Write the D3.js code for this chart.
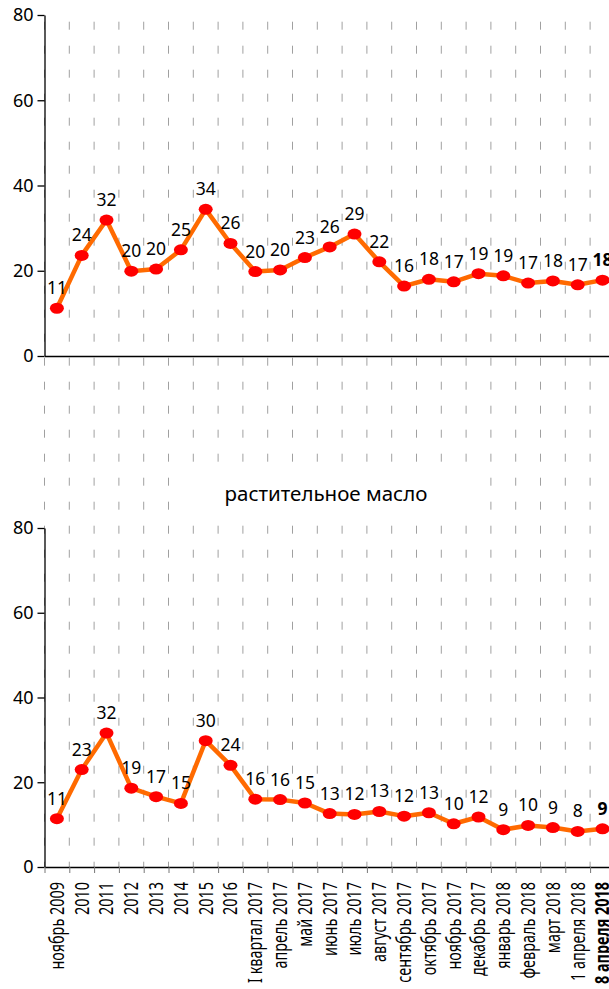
<!DOCTYPE html>
<html>
<head>
<meta charset="utf-8">
<script src="https://cdn.jsdelivr.net/npm/d3@7.9.0/dist/d3.min.js"></script>
<style>
  body { margin: 0; background: #fff; }
  svg { display: block; }
  .tick text { font-family: "Noto Sans", sans-serif; }
</style>
</head>
<body>
<svg id="chart" width="609" height="989"></svg>
<script>
// categories along the x axis
const categories = [
  "ноябрь 2009", "2010", "2011", "2012", "2013", "2014", "2015", "2016",
  "I квартал 2017", "апрель 2017", "май 2017", "июнь 2017", "июль 2017",
  "август 2017", "сентябрь 2017", "октябрь 2017", "ноябрь 2017", "декабрь 2017",
  "январь 2018", "февраль 2018", "март 2018", "1 апреля 2018", "8 апреля 2018"
];

// upper panel (title is above the crop)
const topValues = [11.2, 23.6, 31.9, 19.9, 20.4, 24.9, 34.4, 26.4, 19.8, 20.2, 23.1, 25.6,
  28.6, 22.1, 16.4, 18.0, 17.4, 19.3, 18.8, 17.1, 17.6, 16.7, 17.8];

// lower panel: растительное масло
const oilValues = [11.4, 23.0, 31.6, 18.6, 16.6, 15.0, 29.8, 24.0, 16.0, 15.9, 15.1, 12.6,
  12.4, 13.1, 12.0, 12.8, 10.2, 11.8, 8.8, 9.8, 9.3, 8.4, 9.0];

const yTicks = [0, 20, 40, 60, 80];
const oilTitle = "растительное масло";

const svg = d3.select("#chart");

// shared x scale, the last band runs past the right edge like in the original
const x = d3.scaleBand().domain(categories).range([44.5, 614.9]).padding(0);
const xEdge = d3.scaleLinear().domain([0, categories.length]).range([44.5, 614.9]);
const cx = (i) => x(categories[i]) + x.bandwidth() / 2;

const yTop = d3.scaleLinear().domain([0, 80]).range([356, 15]);
const yBot = d3.scaleLinear().domain([0, 80]).range([867, 528]);

// dashed vertical grid running through both panels
svg.append("g")
  .selectAll("line")
  .data(d3.range(categories.length + 1))
  .join("line")
  .attr("x1", (d) => xEdge(d))
  .attr("x2", (d) => xEdge(d))
  .attr("y1", 21.7)
  .attr("y2", 867)
  .attr("stroke", "#a0a0a0")
  .attr("stroke-width", 1)
  .attr("stroke-dasharray", "8,16");

// white box behind the second title
svg.append("rect")
  .attr("x", 180).attr("y", 468)
  .attr("width", 298).attr("height", 48)
  .attr("fill", "#fff");

svg.append("text")
  .attr("x", 326)
  .attr("y", 501)
  .attr("text-anchor", "middle")
  .attr("font-family", "Noto Sans, sans-serif")
  .attr("font-size", 20.5)
  .attr("fill", "#000")
  .text(oilTitle);

const squeeze = 0.74; // x labels are set in a narrow face

function drawPanel(values, y, withLabels) {
  // y axis
  const yAxis = svg.append("g")
    .attr("transform", "translate(44.5,0)")
    .call(d3.axisLeft(y).tickValues(yTicks).tickSize(7).tickSizeOuter(0).tickPadding(4));
  yAxis.selectAll("text").attr("font-size", 18).attr("fill", "#000");
  yAxis.selectAll("line, path").attr("stroke", "#000").attr("stroke-width", 1.3);

  // x axis line with boundary ticks
  const xAxis = svg.append("g")
    .attr("transform", `translate(0,${y(0)})`)
    .call(d3.axisBottom(xEdge).tickValues(d3.range(categories.length + 1))
      .tickFormat("").tickSize(withLabels ? 6 : 0).tickSizeOuter(0));
  xAxis.select("path").attr("stroke", "#000").attr("stroke-width", 1.3);
  xAxis.selectAll("line").attr("stroke", "#777");

  if (withLabels) {
    const lab = svg.append("g")
      .attr("transform", `translate(0,${y(0)})`)
      .call(d3.axisBottom(x).tickSize(0));
    lab.select("path").remove();
    lab.selectAll("text")
      .attr("transform", `rotate(-90) scale(${squeeze},1)`)
      .attr("x", -15 / squeeze)
      .attr("y", 0)
      .attr("dy", "0.35em")
      .attr("text-anchor", "end")
      .attr("font-size", 19.5)
      .attr("fill", "#000")
      .attr("font-weight", (d, i) => i === categories.length - 1 ? "bold" : "normal");
  }

  // line
  const line = d3.line().x((d, i) => cx(i)).y((d) => y(d));
  svg.append("path")
    .datum(values)
    .attr("d", line)
    .attr("fill", "none")
    .attr("stroke", "#ff6a00")
    .attr("stroke-width", 4.5)
    .attr("stroke-linejoin", "round");

  // markers
  svg.append("g")
    .selectAll("ellipse")
    .data(values)
    .join("ellipse")
    .attr("cx", (d, i) => cx(i))
    .attr("cy", (d) => y(d))
    .attr("rx", 7)
    .attr("ry", 5.5)
    .attr("fill", "#ff0000");

  // value labels
  svg.append("g")
    .selectAll("text")
    .data(values)
    .join("text")
    .attr("x", (d, i) => cx(i))
    .attr("y", (d) => y(d) - 14)
    .attr("text-anchor", "middle")
    .attr("font-family", "Noto Sans, sans-serif")
    .attr("font-size", 17.5)
    .attr("font-weight", (d, i) => i === values.length - 1 ? "bold" : "normal")
    .attr("fill", "#000")
    .text((d) => Math.round(d));
}

drawPanel(topValues, yTop, false);
drawPanel(oilValues, yBot, true);
</script>
</body>
</html>
